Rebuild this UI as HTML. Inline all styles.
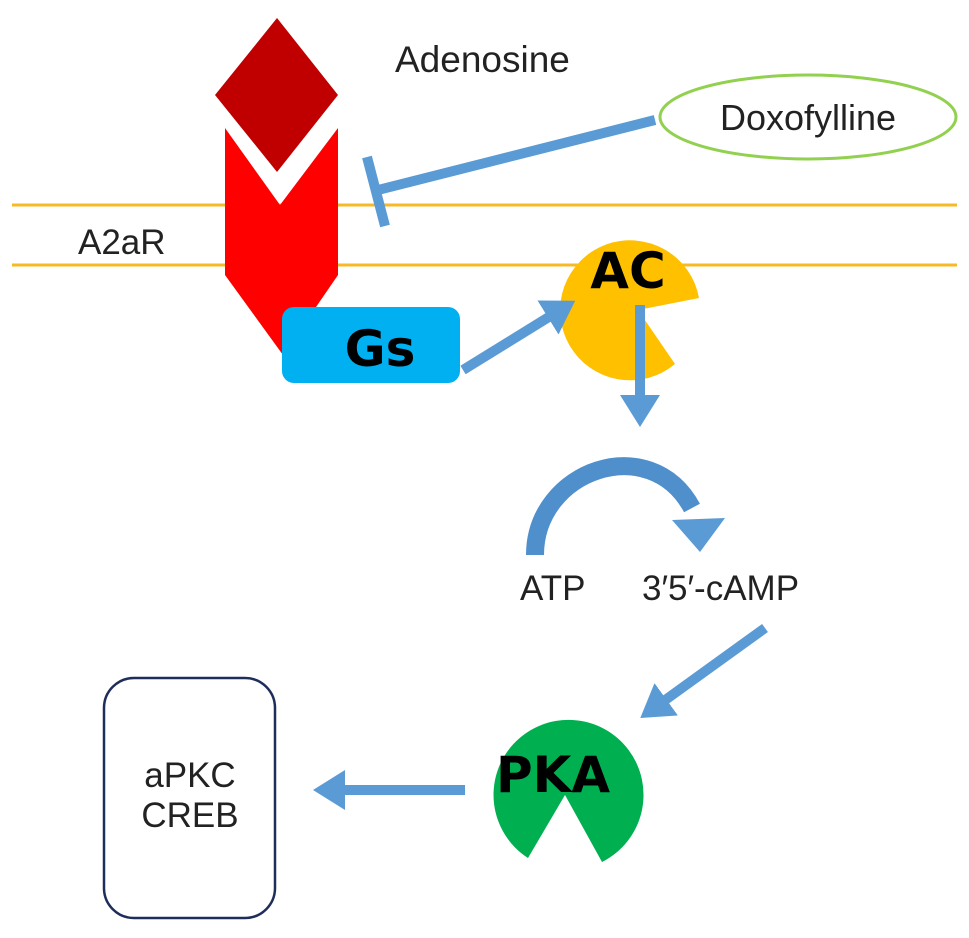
<!DOCTYPE html>
<html><head><style>body{margin:0;background:#fff}svg{display:block}</style></head><body>
<svg width="969" height="938" viewBox="0 0 969 938" xmlns="http://www.w3.org/2000/svg" font-family="Liberation Sans, sans-serif">
<defs>
<marker id="ah" markerWidth="4" markerHeight="4" refX="2" refY="2" orient="auto" markerUnits="strokeWidth"><path d="M0,0 L3.2,2 L0,4 Z" fill="#5b9bd5"/></marker>
</defs>
<line x1="12" y1="205" x2="957" y2="205" stroke="#f7b924" stroke-width="3"/>
<line x1="12" y1="265" x2="957" y2="265" stroke="#f7b924" stroke-width="3"/>
<polygon points="277,18 338,95 277,172 215,95" fill="#c00000"/>
<polygon points="225,128 280,205 338,128 338,275 283,355 225,275" fill="#ff0000"/>
<rect x="282" y="307" width="178" height="76" rx="12" fill="#00b0f0"/>
<text x="380" y="366" font-size="50" font-weight="bold" text-anchor="middle" font-family="DejaVu Sans, sans-serif">Gs</text>
<text x="78" y="254" font-size="35" fill="#222">A2aR</text>
<text x="395" y="72" font-size="37" fill="#222">Adenosine</text>
<ellipse cx="808" cy="117" rx="148" ry="42" fill="none" stroke="#92d050" stroke-width="3"/>
<text x="808" y="130" font-size="36" text-anchor="middle" fill="#222">Doxofylline</text>
<line x1="655" y1="120" x2="378" y2="190" stroke="#5b9bd5" stroke-width="10"/>
<line x1="367" y1="157" x2="385" y2="226" stroke="#5b9bd5" stroke-width="10"/>
<path d="M638,310 L699,298 A70,70 0 1 0 675,364 Z" fill="#ffc000"/>
<text x="628" y="288" font-size="50" font-weight="bold" text-anchor="middle" font-family="DejaVu Sans, sans-serif">AC</text>
<line x1="463" y1="370" x2="565" y2="307" stroke="#5b9bd5" stroke-width="10" marker-end="url(#ah)"/>
<line x1="640" y1="305" x2="640" y2="415" stroke="#5b9bd5" stroke-width="10" marker-end="url(#ah)"/>
<path d="M535,555 C535,470 650,430 692,508" fill="none" stroke="#4f8fcc" stroke-width="18"/>
<polygon points="672,520 725,518 700,552" fill="#5b9bd5"/>
<text x="520" y="600" font-size="35" fill="#222">ATP</text>
<text x="642" y="600" font-size="35" fill="#222">3′5′-cAMP</text>
<line x1="765" y1="628" x2="650" y2="711" stroke="#5b9bd5" stroke-width="10" marker-end="url(#ah)"/>
<path d="M565,795 L602,862 A75,75 0 1 0 528,858 Z" fill="#00b050"/>
<text x="553" y="792" font-size="50" font-weight="bold" text-anchor="middle" font-family="DejaVu Sans, sans-serif">PKA</text>
<line x1="465" y1="790" x2="325" y2="790" stroke="#5b9bd5" stroke-width="10" marker-end="url(#ah)"/>
<rect x="104" y="678" width="171" height="240" rx="30" fill="none" stroke="#1f2d5a" stroke-width="2.5"/>
<text x="190" y="787" font-size="35" text-anchor="middle" fill="#222">aPKC</text>
<text x="190" y="827" font-size="35" text-anchor="middle" fill="#222">CREB</text>
</svg>
</body></html>
